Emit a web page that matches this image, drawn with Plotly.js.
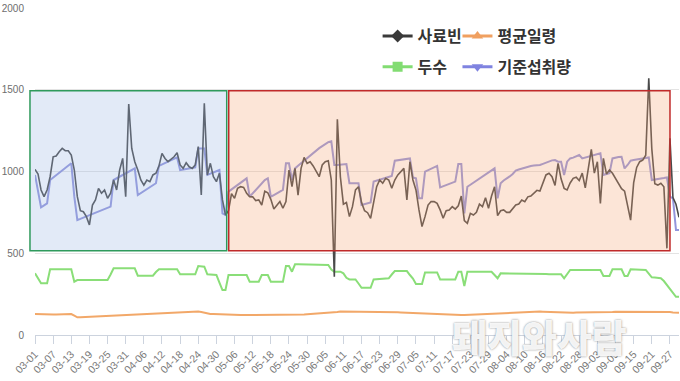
<!DOCTYPE html>
<html>
<head>
<meta charset="utf-8">
<script src="https://cdn.plot.ly/plotly-3.0.1.min.js"></script>
<style>html,body{margin:0;padding:0;background:#fff;}#chart{width:680px;height:381px;}</style>
</head>
<body>
<div id="chart"></div>
<script>
// categories (one per day, 03-01 .. 09-30)
const dates = [
"03-01","03-02","03-03","03-04","03-05","03-06","03-07","03-08","03-09","03-10",
"03-11","03-12","03-13","03-14","03-15","03-16","03-17","03-18","03-19","03-20",
"03-21","03-22","03-23","03-24","03-25","03-26","03-27","03-28","03-29","03-30","03-31",
"04-01","04-02","04-03","04-04","04-05","04-06","04-07","04-08","04-09","04-10",
"04-11","04-12","04-13","04-14","04-15","04-16","04-17","04-18","04-19","04-20",
"04-21","04-22","04-23","04-24","04-25","04-26","04-27","04-28","04-29","04-30",
"05-01","05-02","05-03","05-04","05-05","05-06","05-07","05-08","05-09","05-10",
"05-11","05-12","05-13","05-14","05-15","05-16","05-17","05-18","05-19","05-20",
"05-21","05-22","05-23","05-24","05-25","05-26","05-27","05-28","05-29","05-30","05-31",
"06-01","06-02","06-03","06-04","06-05","06-06","06-07","06-08","06-09","06-10",
"06-11","06-12","06-13","06-14","06-15","06-16","06-17","06-18","06-19","06-20",
"06-21","06-22","06-23","06-24","06-25","06-26","06-27","06-28","06-29","06-30",
"07-01","07-02","07-03","07-04","07-05","07-06","07-07","07-08","07-09","07-10",
"07-11","07-12","07-13","07-14","07-15","07-16","07-17","07-18","07-19","07-20",
"07-21","07-22","07-23","07-24","07-25","07-26","07-27","07-28","07-29","07-30","07-31",
"08-01","08-02","08-03","08-04","08-05","08-06","08-07","08-08","08-09","08-10",
"08-11","08-12","08-13","08-14","08-15","08-16","08-17","08-18","08-19","08-20",
"08-21","08-22","08-23","08-24","08-25","08-26","08-27","08-28","08-29","08-30","08-31",
"09-01","09-02","09-03","09-04","09-05","09-06","09-07","09-08","09-09","09-10",
"09-11","09-12","09-13","09-14","09-15","09-16","09-17","09-18","09-19","09-20",
"09-21","09-22","09-23","09-24","09-25","09-26","09-27","09-28","09-29","09-30"
];

const tickLabels = ["03-01","03-07","03-13","03-19","03-25","03-31","04-06","04-12","04-18","04-24",
"04-30","05-06","05-12","05-18","05-24","05-30","06-05","06-11","06-17","06-23","06-29",
"07-05","07-11","07-17","07-23","07-29","08-04","08-10","08-16","08-22","08-28",
"09-03","09-09","09-15","09-21","09-27"];

const yTicks = [0, 500, 1000, 1500, 2000];

// 사료빈
const feedBin = [
1013,985,887,846,887,968,1090,1095,1121,1141,
1127,1127,1101,1009,846,760,754,724,673,795,
826,897,867,887,836,867,948,887,1009,1080,
846,1413,1141,1060,1009,948,917,948,938,979,
989,1034,1111,1080,1060,1075,1090,1115,1040,1019,
1054,1029,1019,1040,1152,856,1417,979,1050,968,
938,989,826,734,760,865,836,897,907,903,
867,846,845,822,826,795,880,870,830,770,
795,816,775,816,1009,907,1019,856,1019,1086,
1050,1060,1034,999,968,1040,1060,1066,948,357,
1319,968,800,810,724,785,887,907,810,760,
748,714,816,907,948,928,958,948,897,948,
979,999,1019,826,1060,948,887,765,663,724,
795,816,816,805,765,714,760,765,785,770,
790,850,700,683,744,734,750,800,785,840,
775,850,907,730,760,765,750,750,775,795,
801,826,816,845,850,870,885,880,925,979,
989,968,915,1050,955,897,887,930,958,965,
945,990,900,1005,1135,990,1060,805,1080,985,
1009,989,960,930,895,880,800,703,930,1025,
1060,1070,1100,1570,1140,925,917,928,907,530,
1203,840,800,720
];

// 기준섭취량
const standardIntake = [
979,880,781,793,805,948,963,977,992,1006,
1021,1035,1050,846,703,710,718,725,733,740,
748,755,763,770,778,785,948,958,968,978,
989,999,1009,1019,856,868,880,892,904,916,
928,1034,1043,1051,1060,1069,1077,1086,1009,1012,
1015,1018,1022,1025,1141,1141,1141,979,987,994,
1002,1009,744,734,877,891,905,919,933,946,
958,846,866,886,907,928,948,958,846,856,
866,877,887,1050,1050,948,1019,1035,1051,1067,
1083,1099,1115,1131,1143,1155,1168,1180,1185,1040,
1040,1042,1044,1046,928,928,928,928,795,800,
805,810,938,943,949,955,961,967,972,1066,
1069,1071,1074,1077,1080,964,958,836,836,999,
1008,1017,1026,1034,903,910,917,924,931,938,
1046,1046,744,907,919,932,944,957,969,982,
994,1007,1019,836,928,945,955,970,985,1005,
1012,1018,1023,1028,1034,1036,1038,1040,1047,1055,
1062,1068,1070,1060,1060,979,1060,1080,1085,1093,
1101,1080,1085,1090,1095,1100,1105,1111,979,985,
989,1080,1085,1088,1090,1019,1040,1066,1070,1074,
1078,1082,1086,1086,948,950,953,956,960,964,
846,836,642,642
];

// 두수
const headCount = [
377,345,316,316,316,402,402,402,402,402,
402,402,402,326,336,336,336,336,336,336,
336,336,336,336,336,370,408,408,408,408,
408,408,408,408,363,363,363,363,363,363,
385,402,402,402,402,402,402,402,371,371,
371,371,371,371,422,420,418,371,370,369,
367,320,275,275,367,367,367,367,367,367,
367,326,326,326,326,367,367,367,326,326,
326,326,326,422,422,387,432,432,432,431,
431,430,430,430,429,429,428,428,400,387,
387,387,377,350,340,340,340,315,289,289,
289,289,340,341,342,344,345,347,370,391,
391,391,391,391,367,345,312,312,312,383,
383,383,383,383,340,340,340,340,340,340,
387,387,300,387,387,387,387,387,387,387,
387,387,367,347,377,377,377,377,376,376,
376,375,375,375,374,374,374,373,373,373,
372,372,372,371,371,347,372,398,398,398,
398,398,398,398,398,398,398,398,361,361,
361,402,402,402,402,361,361,402,401,400,
400,399,398,375,353,351,349,347,330,305,
285,255,234,234
];

// 평균일령
const avgAge = [
128,127,126,125,125,125,126,126,127,127,
128,128,128,118,108,109,110,110,111,112,
113,114,115,116,117,118,118,119,120,121,
122,123,124,125,126,126,127,128,129,130,
131,132,133,134,134,135,136,137,138,139,
140,141,142,143,143,141,136,130,129,128,
127,126,124,123,122,122,122,122,122,122,
122,122,122,122,122,122,122,122,122,122,
122,122,122,122,122,122,123,124,125,126,
127,128,129,130,131,132,133,134,135,136,
140,143,143,143,143,143,143,143,143,143,
143,143,143,143,143,143,143,143,141,140,
139,138,137,136,135,134,133,132,131,130,
129,128,127,126,125,124,123,123,122,122,
122,122,122,123,124,125,126,127,128,129,
129,130,131,132,133,134,135,136,137,138,
139,140,141,142,143,143,143,143,142,141,
140,139,138,137,137,136,136,136,136,137,
137,138,138,139,139,140,140,140,141,141,
141,141,142,142,142,142,142,143,143,143,
143,143,143,143,143,143,143,143,143,143,
140,138,137,136
];

const seriesNames = ["사료빈","평균일령","두수","기준섭취량"];

function dataTrace(y, color, width) {
  return {type: "scatter", mode: "lines", x: dates, y: y, showlegend: false,
          line: {color: color, width: width}, hoverinfo: "skip"};
}
// legend-only entries (no drawn points)
function legendTrace(name, color, symbol, legendId, group) {
  return {type: "scatter", mode: "lines+markers", name: name, x: [null], y: [null],
          legend: legendId, legendgroup: group, showlegend: true,
          line: {color: color, width: 3},
          marker: {size: 10, symbol: symbol, color: color, line: {width: 0}}};
}

const traces = [
  dataTrace(avgAge, "#f2a869", 2),
  dataTrace(headCount, "#8ade78", 2),
  dataTrace(standardIntake, "#9396dc", 2),
  dataTrace(feedBin, "#4a4a4a", 1.6),
  legendTrace(seriesNames[0], "#3a3a3a", "diamond", "legend", "a"),
  legendTrace(seriesNames[2], "#82dc72", "square", "legend", "b"),
  legendTrace(seriesNames[1], "#f0a060", "triangle-up", "legend2", "c"),
  legendTrace(seriesNames[3], "#7f83e0", "triangle-down", "legend2", "d")
];

const legendFont = {family: "Noto Sans CJK KR, Noto Sans", size: 16, color: "#333333", weight: 700};
const layout = {
  width: 680, height: 381,
  margin: {l: 35, r: 1, t: 8, b: 46},
  paper_bgcolor: "#ffffff", plot_bgcolor: "#ffffff",
  showlegend: true,
  legend: {orientation: "v", x: 0.532, y: 0.966, xanchor: "left", yanchor: "top",
           itemwidth: 30, tracegroupgap: 7, bgcolor: "rgba(0,0,0,0)", font: legendFont},
  legend2: {orientation: "v", x: 0.656, y: 0.966, xanchor: "left", yanchor: "top",
           itemwidth: 30, tracegroupgap: 7, bgcolor: "rgba(0,0,0,0)", font: legendFont},
  xaxis: {
    type: "category", range: [0, 213],
    showgrid: false, zeroline: false,
    showline: true, linecolor: "#ccd3de", linewidth: 1,
    ticks: "outside", ticklen: 8, tickcolor: "#ccd3de", tickwidth: 1,
    tickmode: "array", tickvals: tickLabels, ticktext: tickLabels,
    tickangle: -45,
    tickfont: {family: "Liberation Sans, sans-serif", size: 10.5, color: "#7a7a7a"}
  },
  yaxis: {
    range: [0, 2000], tickmode: "array", tickvals: yTicks,
    showgrid: true, gridcolor: "#e3e3e3", gridwidth: 1,
    zeroline: false, showline: false, ticks: "",
    ticklabelstandoff: 10,
    tickfont: {family: "Liberation Sans, sans-serif", size: 10, color: "#6e6e6e"}
  },
  shapes: [
    {type: "rect", xref: "paper", yref: "paper", x0: -0.0078, x1: 0.2977, y0: 0.258, y1: 0.747,
     layer: "above", fillcolor: "rgba(150,180,225,0.28)", line: {color: "#2f9a5c", width: 1.5}},
    {type: "rect", xref: "paper", yref: "paper", x0: 0.3008, x1: 0.986, y0: 0.258, y1: 0.747,
     layer: "above", fillcolor: "rgba(245,160,110,0.28)", line: {color: "#c02a2a", width: 1.5}}
  ],
  annotations: [
    {text: "돼지와사람", xref: "paper", yref: "paper", x: 0.783, y: 0.0,
     xanchor: "center", yanchor: "middle", showarrow: false,
     font: {family: "Noto Sans CJK KR", size: 38, weight: 900, color: "rgba(255,255,255,0.93)",
            shadow: "0px 0px 2px rgba(100,100,100,0.9)"}}
  ]
};

Plotly.newPlot("chart", traces, layout, {displayModeBar: false, staticPlot: true});
</script>
</body>
</html>
